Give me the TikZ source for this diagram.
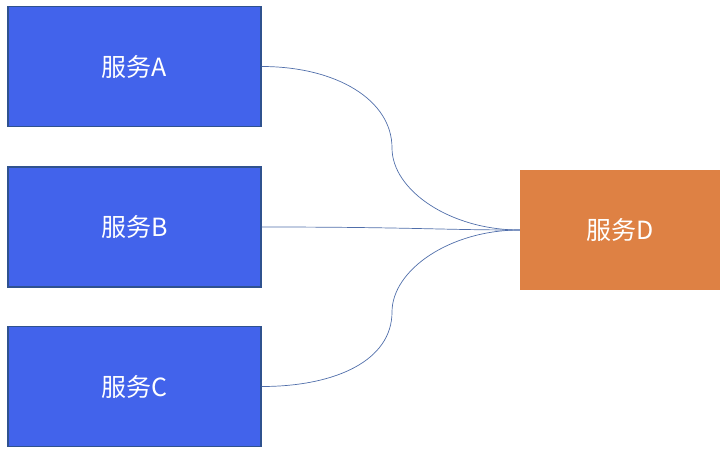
\documentclass[tikz,border=0pt]{standalone}
\usepackage{fontspec}
\setmainfont{Noto Sans CJK SC}
\definecolor{svcblue}{RGB}{66,99,235}
\definecolor{svcedge}{RGB}{47,82,143}
\definecolor{svcorange}{RGB}{222,129,68}
\definecolor{linkcol}{RGB}{80,110,170}
\begin{document}
\begin{tikzpicture}[x=1pt,y=-1pt,
  svc/.style={draw=svcedge,line width=1.2pt,fill=svcblue,text=white,minimum width=253pt,minimum height=120pt,inner sep=0pt,font=\fontsize{25}{30}\selectfont},
  svcd/.style={fill=svcorange,text=white,minimum width=200pt,minimum height=120pt,inner sep=0pt,font=\fontsize{25}{30}\selectfont},
  link/.style={draw=linkcol,line width=0.7pt}]
\useasboundingbox (0,0) rectangle (725,455);
\node[svc] (a) at (134.5,66.5) {服务A};
\node[svc] (b) at (134.5,227) {服务B};
\node[svc] (c) at (134.5,386.5) {服务C};
\node[svcd] (d) at (620,230) {服务D};
\coordinate (ma) at (392,148);
\coordinate (mc) at (392,312);
\draw[link] (a.east) .. controls +(75,0) and +(0,-48) .. (ma) .. controls +(0,42) and +(-70,0) .. (d.west);
\draw[link] (c.east) .. controls +(75,0) and +(0,48) .. (mc) .. controls +(0,-42) and +(-70,0) .. (d.west);
\draw[link] (b.east) .. controls +(150,0) and +(-80,0) .. (d.west);
\end{tikzpicture}
\end{document}
